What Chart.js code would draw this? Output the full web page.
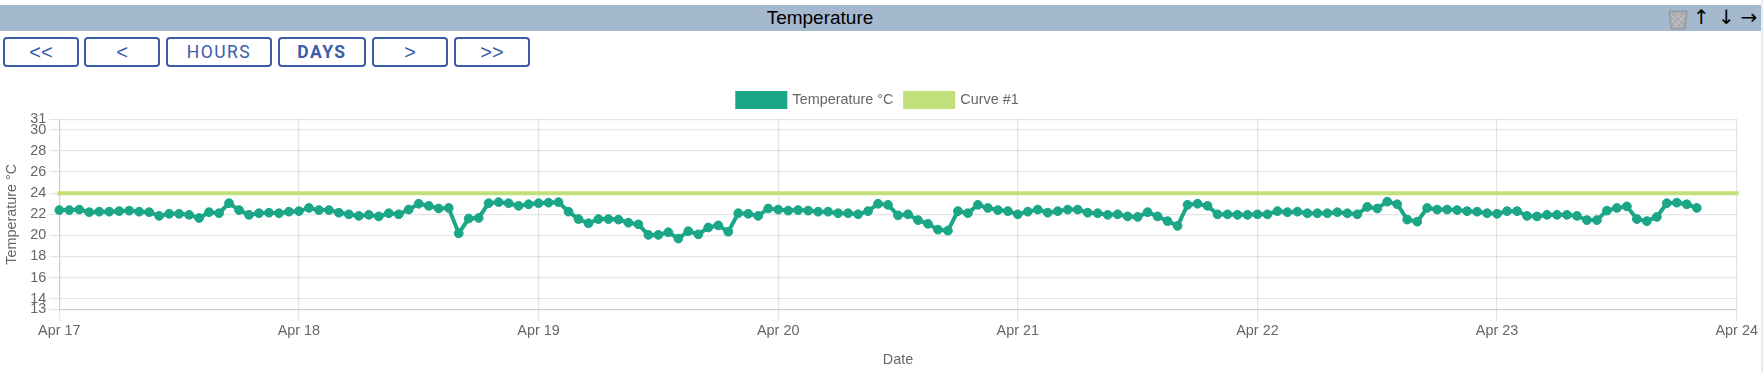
<!DOCTYPE html>
<html><head><meta charset="utf-8">
<script src="https://cdn.jsdelivr.net/npm/chart.js@4"></script>
<style>
html,body{margin:0;padding:0;background:#fff;overflow:hidden;width:1763px;height:372px;font-family:"Liberation Sans",Arial,sans-serif}
#bar{position:absolute;left:0;top:5px;width:1762px;height:26px;background:#a4b8ce;text-align:center;line-height:26px;font-size:19px;color:#000}
#bar .t{position:absolute;left:0;width:1640px;top:0}
#bar .i{position:absolute;top:0;font-size:20px;line-height:25px;font-family:"DejaVu Sans"}
#edge{position:absolute;left:1761px;top:0;width:2px;height:372px;background:#e4ebf3}
.b{position:absolute;top:37px;height:30px;box-sizing:border-box;border:2px solid #3b5cab;border-radius:4px;color:#3b5cab;font:17.5px/26px Roboto,sans-serif;letter-spacing:1.5px;text-align:center;background:#fff}
.b.a{font-family:"Liberation Sans",sans-serif;font-size:20px;letter-spacing:0}
canvas{position:absolute;left:0;top:81px}
svg{position:absolute;left:1668px;top:9px}
</style></head><body>
<div id="bar"><span class="t">Temperature</span>
<span class="i" style="left:1693px;width:16px">↑</span>
<span class="i" style="left:1718px;width:16px">↓</span>
<span class="i" style="left:1739px;width:20px">→</span></div>
<svg width="20" height="21" viewBox="0 0 20 21"><path d="M1 2h18l-2 18H3z" fill="#a9adb0" stroke="#8d9296" stroke-width="1"/><path d="M3 6l12 12M7 4l9 9M3 11l7 7M17 6L6 18M12 4L4 12" stroke="#c4c8ca" stroke-width="1"/></svg>
<div id="edge"></div>
<div class="b a" style="left:3px;width:76px">&lt;&lt;</div>
<div class="b a" style="left:84px;width:76px">&lt;</div>
<div class="b" style="left:166px;width:106px">HOURS</div>
<div class="b" style="left:278px;width:88px;font-weight:700">DAYS</div>
<div class="b a" style="left:372px;width:76px">&gt;</div>
<div class="b a" style="left:454px;width:76px">&gt;&gt;</div>
<canvas id="c" width="1763" height="291"></canvas>
<script>
const dayLabels=['Apr 17','Apr 18','Apr 19','Apr 20','Apr 21','Apr 22','Apr 23','Apr 24'];
const yTickValues=[13,14,16,18,20,22,24,26,28,30,31];
const apr17=[22.4,22.4,22.45,22.2,22.25,22.25,22.3,22.35,22.25,22.2,21.85,22.05,22.05,21.95,21.65,22.2,22.1,23.05,22.4,21.95,22.1,22.15,22.1,22.25];
const apr18=[22.3,22.6,22.4,22.4,22.15,22.0,21.85,21.95,21.8,22.1,22.0,22.45,23.0,22.8,22.55,22.6,20.2,21.6,21.65,23.05,23.15,23.05,22.8,22.95];
const apr19=[23.05,23.1,23.15,22.25,21.55,21.15,21.55,21.55,21.5,21.2,21.05,20.05,20.05,20.3,19.7,20.4,20.1,20.75,20.95,20.35,22.1,22.05,21.85,22.55];
const apr20=[22.45,22.35,22.4,22.35,22.25,22.25,22.1,22.1,22.0,22.3,23.0,22.9,21.9,22.0,21.45,21.1,20.55,20.45,22.3,22.1,22.9,22.6,22.4,22.3];
const apr21=[22.0,22.25,22.45,22.15,22.3,22.45,22.45,22.15,22.1,21.95,22.0,21.8,21.75,22.2,21.8,21.35,20.9,22.9,23.0,22.8,22.0,22.0,21.95,21.95];
const apr22=[22.0,22.0,22.3,22.2,22.25,22.1,22.1,22.1,22.2,22.1,22.0,22.7,22.55,23.2,22.95,21.5,21.3,22.6,22.45,22.45,22.4,22.3,22.25,22.1];
const apr23=[22.05,22.3,22.3,21.85,21.8,21.95,21.95,21.95,21.85,21.45,21.45,22.35,22.6,22.75,21.55,21.35,21.75,23.05,23.1,22.95,22.6];
const temperature=[...apr17,...apr18,...apr19,...apr20,...apr21,...apr22,...apr23];
const curveValues=[24,24];
const curveHours=[0,168];
const yMin=13,yMax=31;
const gray='#666';
const font={family:'"Liberation Sans",Arial,sans-serif',size:14.4};
const gridC='rgba(0,0,0,0.1)';
new Chart(document.getElementById('c'),{
  type:'line',
  data:{datasets:[
    {label:'Temperature °C',xAxisID:'x',yAxisID:'y',clip:false,data:temperature.map((v,i)=>({x:i,y:v})),borderColor:'#1aa687',backgroundColor:'#1aa687',borderWidth:4,pointRadius:4.4,pointBackgroundColor:'#1aa687',pointBorderColor:'#1aa687',pointBorderWidth:1,tension:0,fill:false},
    {label:'Curve #1',xAxisID:'x',yAxisID:'y',clip:false,data:curveHours.map((h,i)=>({x:h,y:curveValues[i]})),borderColor:'#c1e07b',backgroundColor:'#c1e07b',borderWidth:4,pointRadius:0,tension:0,fill:false,borderCapStyle:'square'}
  ]},
  options:{
    responsive:false,animation:false,
    layout:{padding:{left:0,right:7,top:0,bottom:0}},
    plugins:{tooltip:{enabled:false},
      legend:{position:'top',labels:{boxWidth:48,boxHeight:14,font,color:gray,padding:11.7}}},
    scales:{
      x:{type:'linear',min:0,max:168,
        afterFit:s=>{s.height=62.7},
        afterBuildTicks:s=>{s.ticks=dayLabels.map((d,i)=>({value:i*24}))},
        ticks:{font,color:gray,maxRotation:0,autoSkip:false,padding:1,callback:(v)=>dayLabels[v/24]},
        grid:{color:gridC,lineWidth:1.25,tickLength:12},border:{color:gridC,width:1.25},
        title:{display:true,text:'Date',font,color:gray,padding:{top:4,bottom:3}}},
      y:{min:yMin,max:yMax,
        afterFit:s=>{s.width=59.3},
        afterBuildTicks:s=>{s.ticks=yTickValues.map(v=>({value:v}))},
        ticks:{autoSkip:false,font,color:gray,padding:3},
        grid:{color:gridC,lineWidth:1.25,tickLength:10},border:{color:gridC,width:1.25},
        title:{display:true,text:'Temperature °C',font,color:gray,padding:{top:3,bottom:0}}},
      rightGap:{axis:'y',position:'right',afterFit:s=>{s.width=19.3},ticks:{display:false},grid:{display:false},border:{display:false}},
      topGap:{axis:'x',position:'top',afterFit:s=>{s.height=2.2},ticks:{display:false},grid:{display:false},border:{display:false}}
    }
  }
});
</script>
</body></html>
